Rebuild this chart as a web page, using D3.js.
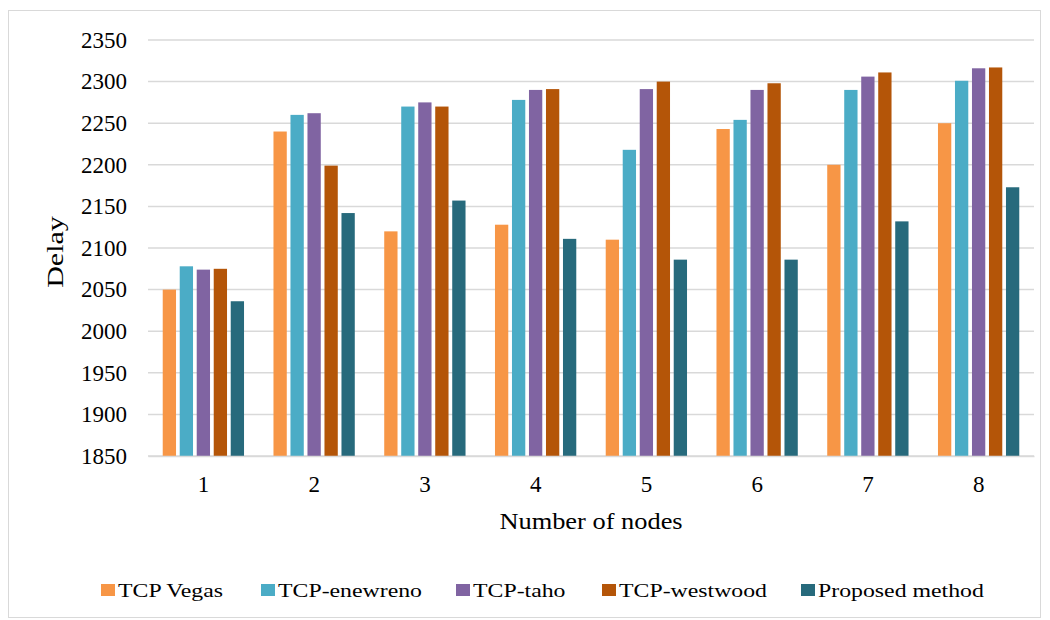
<!DOCTYPE html>
<html>
<head>
<meta charset="utf-8">
<script src="https://cdn.jsdelivr.net/npm/d3@7"></script>
<style>
  html, body { margin: 0; padding: 0; background: #fff; }
  svg text { font-family: "Times New Roman", "Liberation Serif", "DejaVu Serif", serif; fill: #000; }
</style>
</head>
<body>
<svg id="chart" width="1050" height="620"></svg>
<script>
// Delay per number of nodes for each TCP variant
const categories = ["1", "2", "3", "4", "5", "6", "7", "8"];
const seriesNames = ["TCP Vegas", "TCP-enewreno", "TCP-taho", "TCP-westwood", "Proposed method"];
const tcpVegas     = [2050, 2240, 2120, 2128, 2110, 2243, 2200, 2250];
const tcpEnewreno  = [2078, 2260, 2270, 2278, 2218, 2254, 2290, 2301];
const tcpTaho      = [2074, 2262, 2275, 2290, 2291, 2290, 2306, 2316];
const tcpWestwood  = [2075, 2199, 2270, 2291, 2300, 2298, 2311, 2317];
const proposed     = [2036, 2142, 2157, 2111, 2086, 2086, 2132, 2173];
const yTicks = [1850, 1900, 1950, 2000, 2050, 2100, 2150, 2200, 2250, 2300, 2350];

const seriesValues = [tcpVegas, tcpEnewreno, tcpTaho, tcpWestwood, proposed];
const colors = ["#F79646", "#4BACC6", "#8064A2", "#B45508", "#276A7C"];
const serif = "'Times New Roman', 'Liberation Serif', 'DejaVu Serif', serif";

const svg = d3.select("#chart");
const plot = { left: 148, right: 1034, top: 40, bottom: 456 };

// outer chart frame
svg.append("rect")
  .attr("x", 8.5).attr("y", 10.5)
  .attr("width", 1032).attr("height", 607)
  .attr("fill", "#fff").attr("stroke", "#d9d9d9").attr("stroke-width", 1);

const x0 = d3.scaleBand().domain(categories).range([plot.left, plot.right]).padding(0);
const groupWidth = 85;
const x1 = d3.scaleBand().domain(seriesNames).range([0, groupWidth]).paddingInner(0.218).paddingOuter(0.109);
const y = d3.scaleLinear().domain([1850, 2350]).range([plot.bottom, plot.top]);

// horizontal gridlines
svg.append("g")
  .selectAll("line")
  .data(yTicks)
  .join("line")
  .attr("x1", plot.left).attr("x2", plot.right)
  .attr("y1", d => y(d)).attr("y2", d => y(d))
  .attr("stroke", "#d9d9d9").attr("stroke-width", 1.5);

// y axis labels
const yAxis = d3.axisLeft(y).tickValues(yTicks).tickSize(0).tickPadding(0).tickFormat(d3.format("d"));
const gy = svg.append("g").attr("transform", `translate(${plot.left - 21},0)`).call(yAxis)
  .attr("font-family", serif);
gy.select(".domain").remove();
gy.selectAll("text")
  .attr("font-size", 23)
  .attr("fill", "#000");

// bars
const groups = svg.append("g")
  .selectAll("g")
  .data(categories)
  .join("g")
  .attr("transform", d => `translate(${x0(d) + (x0.bandwidth() - groupWidth) / 2},0)`);

groups.selectAll("rect")
  .data((c, i) => seriesNames.map((s, k) => ({ series: s, k, value: seriesValues[k][i] })))
  .join("rect")
  .attr("x", d => x1(d.series))
  .attr("width", x1.bandwidth())
  .attr("y", d => y(d.value))
  .attr("height", d => y(1850) - y(d.value))
  .attr("fill", d => colors[d.k]);

// x axis baseline and labels
const xAxis = d3.axisBottom(x0).tickSize(0).tickPadding(0);
const gx = svg.append("g").attr("transform", `translate(0,${plot.bottom})`).call(xAxis)
  .attr("font-family", serif);
gx.select(".domain").attr("stroke", "#d9d9d9").attr("stroke-width", 1.5);
gx.selectAll("text")
  .attr("dy", null)
  .attr("y", 36)
  .attr("font-size", 23)
  .attr("fill", "#000");

// axis titles
svg.append("text")
  .attr("transform", `translate(${(plot.left + plot.right) / 2},529) scale(1.1,1)`)
  .attr("text-anchor", "middle")
  .attr("font-family", serif)
  .attr("font-size", 24)
  .text("Number of nodes");

svg.append("text")
  .attr("transform", `translate(63,252) rotate(-90) scale(1.25,1)`)
  .attr("text-anchor", "middle")
  .attr("font-family", serif)
  .attr("font-size", 24)
  .text("Delay");

// legend
const legendX = [101, 261, 456, 602, 801];
const legend = svg.append("g")
  .selectAll("g")
  .data(seriesNames)
  .join("g")
  .attr("transform", (d, i) => `translate(${legendX[i]},584)`);
legend.append("rect")
  .attr("x", 0).attr("y", 0)
  .attr("width", 14).attr("height", 12)
  .attr("fill", (d, i) => colors[i]);
legend.append("text")
  .attr("transform", "translate(17,13) scale(1.22,1)")
  .attr("font-family", serif)
  .attr("font-size", 19.5)
  .text(d => d);
</script>
</body>
</html>
